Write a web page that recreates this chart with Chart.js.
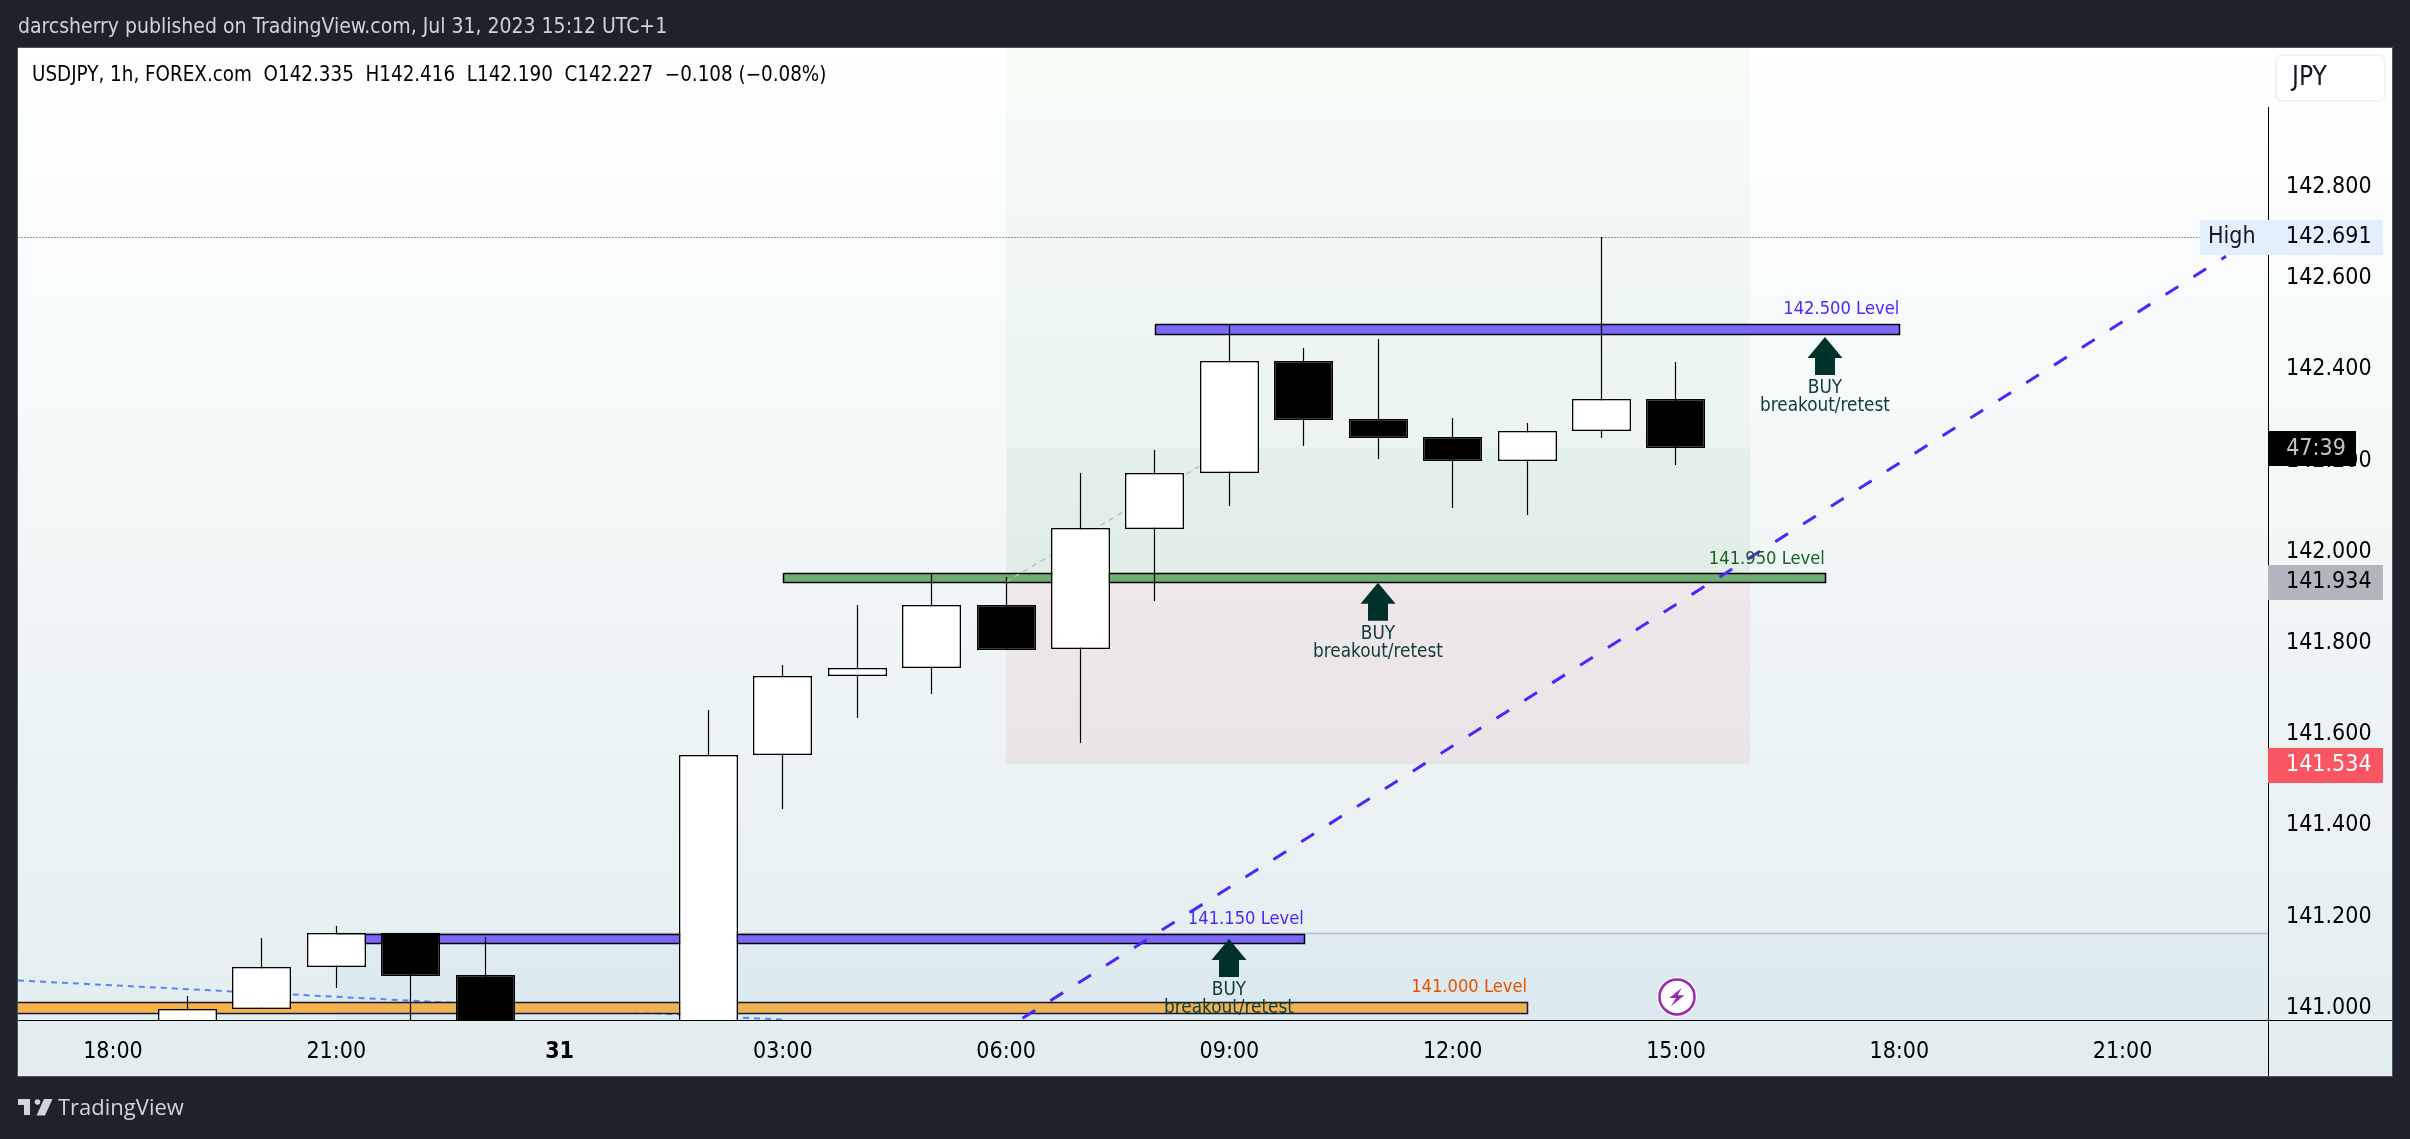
<![CDATA[<!DOCTYPE html>
<html><head><meta charset="utf-8">
<style>html,body{margin:0;padding:0;background:#1e222d;overflow:hidden}#wrap{width:2410px;height:1139px;position:relative}canvas{display:block}</style>
<script src="https://cdn.jsdelivr.net/npm/chart.js@4"></script>
</head><body><div id="wrap"><canvas id="c" width="2410" height="1139"></canvas></div>
<script>
// hours counted from 18:00 on Jul 30
const candleHours=[1,2,3,4,5,8,9,10,11,12,13,14,15,16,17,18,19,20,21];
const opens =[140.95,140.997,141.089,141.165,141.071,140.90,141.554,141.727,141.745,141.884,141.786,142.051,142.172,142.419,142.291,142.252,142.198,142.264,142.335];
const highs =[141.025,141.154,141.18,141.165,141.156,141.652,141.752,141.884,141.953,141.945,142.172,142.223,142.5,142.447,142.467,142.294,142.283,142.691,142.416];
const lows  =[140.95,140.997,141.044,140.90,140.90,140.90,141.437,141.635,141.689,141.785,141.58,141.893,142.101,142.231,142.204,142.095,142.08,142.25,142.19];
const closes=[140.998,141.09,141.164,141.069,140.95,141.555,141.728,141.745,141.884,141.785,142.053,142.172,142.418,142.289,142.25,142.198,142.264,142.334,142.227];
const priceTicks=[141,141.2,141.4,141.6,141.8,142,142.2,142.4,142.6,142.8];
const timeTicks=[0,3,6,9,12,15,18,21,24,27];
const timeLabels=['18:00','21:00','31','03:00','06:00','09:00','12:00','15:00','18:00','21:00'];
const xMin=-1.276,xMax=28.954,yMin=140.9733,yMax=143.1046;
const levelNames=['142.500 Level','141.950 Level','141.150 Level','141.000 Level'];
const levelStart=[14,9,3,-3];
const levelEnd=[24,23,16,19];
const levelTop=[142.5,141.953,141.161,141.013];
const levelBottom=[142.477,141.933,141.142,140.989];
const arrowHours=[23,17,15];
const arrowTips=[142.471,141.932,141.151];
const entryPrice=141.934,stopPrice=141.534,lastPrice=142.227,highPrice=142.691,boxStart=12,boxEnd=22;
const trendHours=[12.22,28.39],trendPrices=[140.977,142.648];
const fadeHours=[-1.276,8.99],fadePrices=[141.06,140.974];
const entryLineHours=[12,15],entryLinePrices=[141.934,142.227];
const regionStart=3,regionTop=141.163;
const iconHour=21,iconPrice=141.024;

const FONT='"DejaVu Sans Condensed","DejaVu Sans",sans-serif';
const ds=[];
function fillRect(x0,x1,top,bottom,color){ds.push({type:'line',data:[{x:x0,y:top},{x:x1,y:top}],borderWidth:0,pointRadius:0,backgroundColor:color,fill:{target:{value:bottom}},snap:'fill'});}
function outline(x0,x1,top,bottom,color){ds.push({type:'line',data:[{x:x0,y:top},{x:x1,y:top},{x:x1,y:bottom},{x:x0,y:bottom},{x:x0,y:top}],borderColor:color,borderWidth:1.5,pointRadius:0,fill:false,snap:'line'});}
function line(xs,ys,color,w,dash,snap){ds.push({type:'line',data:xs.map((x,i)=>({x,y:ys[i]})),borderColor:color,borderWidth:w,borderDash:dash||[],pointRadius:0,fill:false,snap:snap?'line':null});}
// position box
fillRect(boxStart,boxEnd,yMax+1,lastPrice,'rgba(76,175,80,0.05)');
fillRect(boxStart,boxEnd,lastPrice,entryPrice,'rgba(76,175,80,0.095)');
fillRect(boxStart,boxEnd,entryPrice,stopPrice,'rgba(220,50,90,0.07)');
// high line
line([xMin,xMax],[highPrice,highPrice],'#2a2e39',1,[1,2],true);
// fading blue line
line(fadeHours,fadePrices,'rgba(41,98,255,0.75)',2,[6,5]);
// orange level then blue region above it
fillRect(levelStart[3],levelEnd[3],levelTop[3],levelBottom[3],'#f8b24a');
outline(levelStart[3],levelEnd[3],levelTop[3],levelBottom[3],'#131722');
fillRect(regionStart,xMax+5,regionTop,yMin-1,'rgba(33,150,243,0.04)');
line([regionStart,xMax+5],[regionTop,regionTop],'#b9b9df',1.5,[],true);
// other levels
const levelCols=['#7b68fa','#6fae72','#7b68fa'];
[2,1,0].forEach(i=>{fillRect(levelStart[i],levelEnd[i],levelTop[i],levelBottom[i],levelCols[i]);outline(levelStart[i],levelEnd[i],levelTop[i],levelBottom[i],'#000');});
// entry line
line(entryLineHours,entryLinePrices,'#b9c2c0',1.5,[5,5]);
// candles
const candleXY=(a,b)=>candleHours.map((h,i)=>({x:h,y:[a[i],b[i]]}));
ds.push({type:'bar',data:candleXY(lows,highs),backgroundColor:'#000',barThickness:1.2,borderWidth:0,inflateAmount:0,snap:'wick'});
ds.push({type:'bar',data:candleXY(opens,closes),barThickness:59,inflateAmount:0,backgroundColor:closes.map((c,i)=>c>=opens[i]?'#ffffff':'#000000'),borderColor:'#000',borderWidth:1.5,borderSkipped:false,snap:'body'});
// trend
line(trendHours,trendPrices,'#4f25ff',3,[15,18]);
ds.forEach((d,i)=>d.order=ds.length-i);

const X=c=>c.scales.x, Y=c=>c.scales.y;
function txt(ctx,s,x,y,font,color,align){ctx.font=font;ctx.fillStyle=color;ctx.textAlign=align||'left';ctx.textBaseline='middle';ctx.fillText(s,x,y);}
const snapPlugin={id:'snap',afterDatasetsUpdate(c){c.data.datasets.forEach((d,i)=>{const m=c.getDatasetMeta(i);
 if(d.snap==='wick')m.data.forEach(e=>{e.x=Math.floor(e.x)+.5;e.y=Math.round(e.y);e.base=Math.round(e.base);});
 if(d.snap==='body')m.data.forEach(e=>{e.x=Math.floor(e.x)+.5;e.y=Math.round(e.y);e.base=Math.round(e.base);});
 if(d.snap==='line')m.data.forEach(e=>{e.x=Math.round(e.x)+.5;e.y=Math.round(e.y)+.5;});
 if(d.snap==='fill')m.data.forEach(e=>{e.x=Math.round(e.x);e.y=Math.round(e.y);});
});}};
const bgPlugin={id:'bg',beforeDraw(c){const g=c.ctx;g.save();const gr=g.createLinearGradient(0,48,0,1076);gr.addColorStop(0,'#ffffff');gr.addColorStop(1,'#e2edef');g.fillStyle='#1e222d';g.fillRect(0,0,2410,1139);g.fillStyle='#50535e';g.fillRect(17,47,2376,1030);g.fillStyle=gr;g.fillRect(18,48,2374,1028);g.restore();}};
const overlay={id:'overlay',afterDraw(c){const g=c.ctx,xs=X(c),ys=Y(c),px=h=>xs.getPixelForValue(h),py=v=>ys.getPixelForValue(v);g.save();
 // axis lines
 g.fillStyle='#000';g.fillRect(2268,107,1,969);g.fillRect(18,1020,2374,1);
 const F=s=>s+'px '+FONT;
 // level labels
 const lc=['#4f25ff','#1b5e20','#4f25ff','#e65100'],ly=[14,14,15,15];
 levelNames.forEach((n,i)=>txt(g,n,px(levelEnd[i]),py(levelTop[i])-ly[i],F(18.2),lc[i],'right'));
 // arrows
 arrowHours.forEach((h,i)=>{const x=Math.round(px(h)),t=py(arrowTips[i]);g.fillStyle='#00312a';g.beginPath();g.moveTo(x,t);g.lineTo(x+17.5,t+21);g.lineTo(x+10,t+21);g.lineTo(x+10,t+38);g.lineTo(x-10,t+38);g.lineTo(x-10,t+21);g.lineTo(x-17.5,t+21);g.closePath();g.fill();
  txt(g,'BUY',x,t+51,F(18.8),'#0b3d36','center');txt(g,'breakout/retest',x,t+69.5,F(18.8),'#0b3d36','center');});
 // icon
 {const x=px(iconHour)+1,y=py(iconPrice);g.fillStyle='#fff';g.beginPath();g.arc(x,y,20,0,7);g.fill();g.strokeStyle='#9c27b0';g.lineWidth=2.5;g.beginPath();g.arc(x,y,17.5,0,7);g.stroke();g.fillStyle='#9c27b0';g.beginPath();[[4.7,-9],[-7.7,1],[-1,1],[-6,9.3],[7.3,-1.7],[.7,-1.7]].forEach((p,i)=>i?g.lineTo(x+p[0],y+p[1]):g.moveTo(x+p[0],y+p[1]));g.closePath();g.fill();}
 // price labels
 const lab=(x0,x1,y0,y1,col)=>{g.fillStyle=col;g.fillRect(x0,y0,x1-x0,y1-y0);};
 const ax=F(23);
 lab(2200,2383,220,255,'#e3effd');txt(g,'High',2208,237,ax,'#131722');txt(g,highPrice.toFixed(3),2286,237,ax,'#000');
 lab(2268,2356,431,466,'#000');txt(g,'47:39',2316,449,ax,'#c4c4c4','center');
 lab(2268,2383,565,600,'#b2b5be');txt(g,entryPrice.toFixed(3),2286,582,ax,'#000');
 lab(2268,2383,748,783,'#f95562');txt(g,stopPrice.toFixed(3),2286,765,ax,'#fff');
 // JPY button
 g.fillStyle='#fff';g.strokeStyle='#f0f3fa';g.lineWidth=2;g.beginPath();g.roundRect(2276,55,109,46,6);g.fill();g.stroke();
 txt(g,'JPY',2292,78,F(26),'#131722');
 // legend, header
 txt(g,'USDJPY, 1h, FOREX.com  O142.335  H142.416  L142.190  C142.227  \u22120.108 (\u22120.08%)',32,76,F(20.4),'#000');
 txt(g,'darcsherry published on TradingView.com, Jul 31, 2023 15:12 UTC+1',18,28,F(21),'#d1d4dc');
 // footer logo
 g.fillStyle='#d1d4dc';g.beginPath();g.moveTo(18,1099);g.lineTo(30,1099);g.lineTo(30,1115);g.lineTo(24,1115);g.lineTo(24,1105);g.lineTo(18,1105);g.closePath();g.fill();
 g.beginPath();g.arc(37.5,1102,2.8,0,7);g.fill();
 g.beginPath();g.moveTo(44,1099);g.lineTo(52.5,1099);g.lineTo(45,1115.5);g.lineTo(36.5,1115.5);g.closePath();g.fill();
 txt(g,'TradingView',58,1109,'500 22px "Open Sans"','#d1d4dc');
 g.restore();}};
new Chart(document.getElementById('c'),{data:{datasets:ds},plugins:[snapPlugin,bgPlugin,overlay],options:{responsive:false,animation:false,
 layout:{padding:{left:18,top:48,right:18,bottom:63}},
 plugins:{legend:{display:false},tooltip:{enabled:false},title:{display:false}},
 datasets:{bar:{grouped:false},line:{tension:0}},
 scales:{
  x:{type:'linear',offset:false,min:xMin,max:xMax,grid:{display:false},border:{display:false},
   afterBuildTicks(a){a.ticks=timeTicks.map(value=>({value}));},afterFit(a){a.height=56;},
   ticks:{autoSkip:false,maxRotation:0,padding:10,color:'#000',font:c=>({family:FONT,size:23,weight:c.tick&&c.tick.value===6?'bold':'normal'}),callback:v=>timeLabels[timeTicks.indexOf(v)]}},
  y:{type:'linear',position:'right',min:yMin,max:yMax,grid:{display:false},border:{display:false},
   afterBuildTicks(a){a.ticks=priceTicks.map(value=>({value}));},afterFit(a){a.width=124;},
   ticks:{padding:10,color:'#000',font:{family:FONT,size:23},callback:v=>v.toFixed(3)}}
 }}});
</script></body></html>]]>
